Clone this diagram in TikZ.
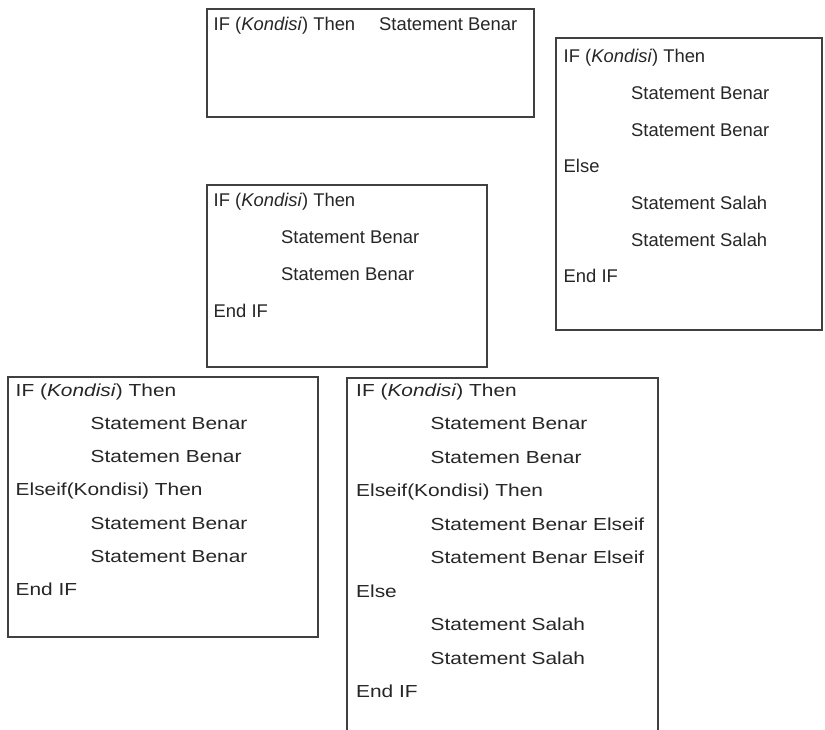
\documentclass[tikz,border=0pt]{standalone}
\usepackage{fontspec}
\setmainfont{Liberation Sans}
\newfontfamily\widefont[FakeStretch=1.2]{Liberation Sans}
\begin{document}
\begin{tikzpicture}[x=1pt,y=-1pt]
\tikzset{
  boxline/.style={draw=black!75, line width=1.8pt},
  ln/.style={anchor=base west, inner sep=0pt, text=black!85, font=\fontsize{18.4}{20}\selectfont},
  lw/.style={anchor=base west, inner sep=0pt, text=black!85, font=\widefont\fontsize{17.4}{20}\selectfont}
}
\useasboundingbox (0,0) rectangle (825,730);
\clip (0,0) rectangle (825,730);
\fill[white] (0,0) rectangle (825,730);

% Box 1
\draw[boxline] (207,9) rectangle (534,117);
\node[ln] (a1) at (213.5,31) {IF (\textit{Kondisi}) Then};
\node[ln] (a2) at (379,31) {Statement Benar};

% Box 2
\draw[boxline] (556,38) rectangle (822,330);
\node[ln] (b1) at (563.5,62.7) {IF (\textit{Kondisi}) Then};
\node[ln] (b2) at (631,99.4) {Statement Benar};
\node[ln] (b3) at (631,136.1) {Statement Benar};
\node[ln] (b4) at (563.5,172.8) {Else};
\node[ln] (b5) at (631,209.5) {Statement Salah};
\node[ln] (b6) at (631,246.2) {Statement Salah};
\node[ln] (b7) at (563.5,282.9) {End IF};

% Box 3
\draw[boxline] (207,185) rectangle (487,367);
\node[ln] (c1) at (213.5,207) {IF (\textit{Kondisi}) Then};
\node[ln] (c2) at (281,243.7) {Statement Benar};
\node[ln] (c3) at (281,280.4) {Statemen Benar};
\node[ln] (c4) at (213.5,317.1) {End IF};

% Box 4
\draw[boxline] (8,377) rectangle (318,637);
\node[lw] (d1) at (15.5,396) {IF (\textit{Kondisi}) Then};
\node[lw] (d2) at (90.5,429.3) {Statement Benar};
\node[lw] (d3) at (90.5,462.6) {Statemen Benar};
\node[lw] (d4) at (15.5,495.9) {Elseif(Kondisi) Then};
\node[lw] (d5) at (90.5,529.2) {Statement Benar};
\node[lw] (d6) at (90.5,562.5) {Statement Benar};
\node[lw] (d7) at (15.5,595.8) {End IF};

% Box 5
\draw[boxline] (347,378) rectangle (658,760);
\node[lw] (e1) at (356,396) {IF (\textit{Kondisi}) Then};
\node[lw] (e2) at (430.5,429.5) {Statement Benar};
\node[lw] (e3) at (430.5,463) {Statemen Benar};
\node[lw] (e4) at (356,496.5) {Elseif(Kondisi) Then};
\node[lw] (e5) at (430.5,530) {Statement Benar Elseif};
\node[lw] (e6) at (430.5,563.5) {Statement Benar Elseif};
\node[lw] (e7) at (356,597) {Else};
\node[lw] (e8) at (430.5,630.5) {Statement Salah};
\node[lw] (e9) at (430.5,664) {Statement Salah};
\node[lw] (e10) at (356,697.5) {End IF};
\end{tikzpicture}
\end{document}
